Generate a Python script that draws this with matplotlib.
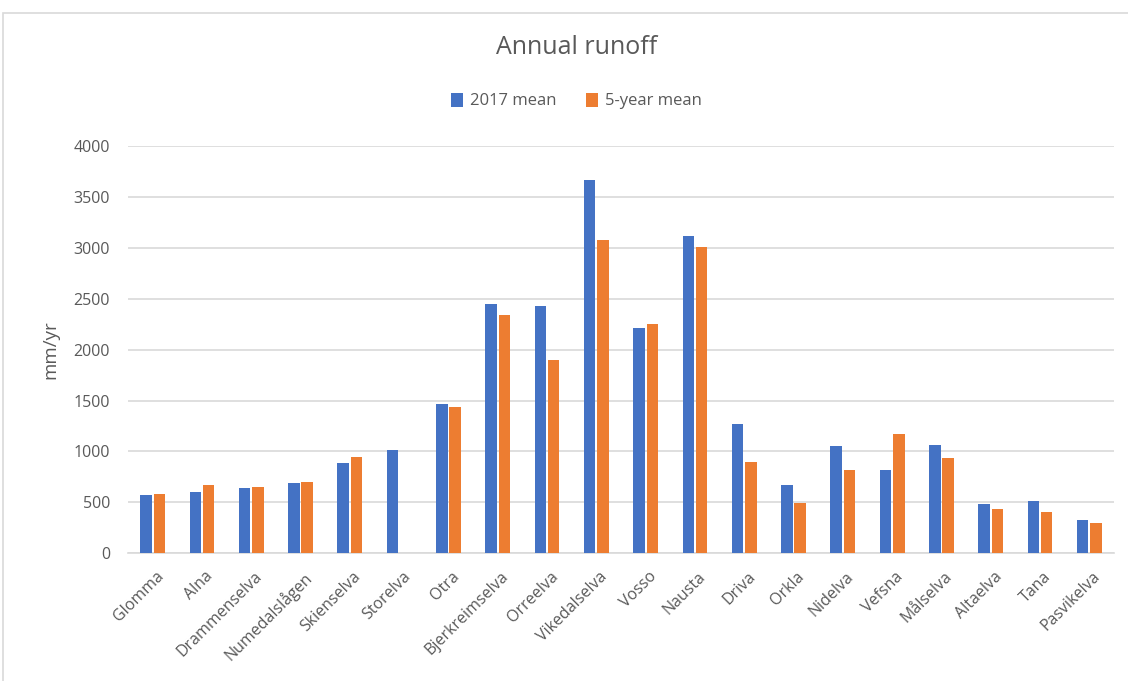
import numpy as np
import matplotlib.pyplot as plt
from matplotlib.patches import Rectangle

rivers = ["Glomma", "Alna", "Drammenselva", "Numedalslågen", "Skienselva", "Storelva",
          "Otra", "Bjerkreimselva", "Orreelva", "Vikedalselva", "Vosso", "Nausta",
          "Driva", "Orkla", "Nidelva", "Vefsna", "Målselva", "Altaelva", "Tana", "Pasvikelva"]
mean_2017 = [573, 605, 638, 690, 887, 1012, 1470, 2449, 2429, 3664, 2210, 3117,
             1270, 668, 1051, 815, 1064, 484, 517, 330]
mean_5yr = [583, 671, 651, 703, 946, np.nan, 1437, 2341, 1896, 3075, 2252, 3009,
            900, 494, 815, 1172, 933, 432, 406, 298]

BLUE = "#4472C4"
ORANGE = "#ED7D31"
GREY = "#595959"

plt.rcParams['font.family'] = ['Open Sans', 'DejaVu Sans']

fig = plt.figure(figsize=(11.28, 6.81), dpi=100)
ax = fig.add_axes([128 / 1128, 1 - 553.3 / 681, (1114 - 128) / 1128, (553.3 - 146) / 681])

# chart frame
fig.patches.append(Rectangle((3 / 1128, -0.05), 1.1, 1 - 12.5 / 681 + 0.05,
                             transform=fig.transFigure, fill=False,
                             edgecolor="#d9d9d9", linewidth=1.2))

x = np.arange(len(rivers))
w = 0.232
ax.bar(x - 0.135, mean_2017, w, color=BLUE, label="2017 mean", zorder=3)
ax.bar(x + 0.135, mean_5yr, w, color=ORANGE, label="5-year mean", zorder=3)

ax.set_xlim(-0.5, len(rivers) - 0.5)
ax.set_ylim(0, 4000)
ax.set_yticks(np.arange(0, 4001, 500))
ax.yaxis.grid(True, color="#d9d9d9", linewidth=1.2, zorder=0)
ax.set_axisbelow(True)
for s in ["top", "right", "left"]:
    ax.spines[s].set_visible(False)
ax.spines["bottom"].set_color("#d9d9d9")
ax.spines["bottom"].set_linewidth(1.2)
ax.tick_params(axis="both", length=0, colors=GREY, labelsize=11.5)
ax.tick_params(axis="y", pad=13)

ax.set_xticks(x + 0.06)
ax.set_xticklabels(rivers, rotation=45, ha="right", rotation_mode="anchor")
ax.tick_params(axis="x", pad=11)

ax.set_ylabel("mm/yr", color=GREY, fontsize=13.5, labelpad=10)

fig.text(0.5115, 1 - 48 / 681, "Annual runoff", ha="center", va="center",
         color=GREY, fontsize=18)
fig.legend(loc="center", bbox_to_anchor=(0.511, 1 - 101 / 681), ncol=2, frameon=False,
           fontsize=12, handlelength=0.7, handleheight=0.9, handletextpad=0.4,
           columnspacing=1.8, labelcolor=GREY)

fig.savefig("out.png", dpi=100, facecolor="white")
